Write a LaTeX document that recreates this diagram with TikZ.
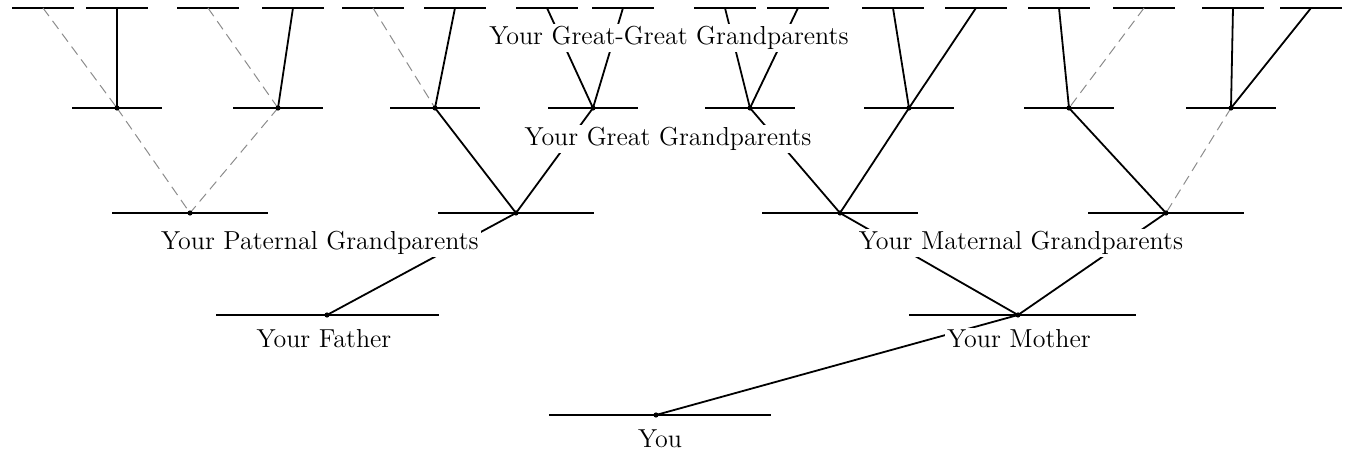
\documentclass[tikz,border=0pt]{standalone}
\usepackage{tikz}
\usetikzlibrary{calc}
\tikzset{
  bar/.style={line width=0.6pt},
  link/.style={line width=0.9pt},
  faint/.style={line width=0.5pt, black!45, dash pattern=on 5pt off 3pt},
  gentext/.style={fill=white, inner sep=1pt, font=\fontsize{13}{15}\selectfont},
  knot/.style={fill=black},
}

\begin{document}
\begin{tikzpicture}[x=0.5pt, y=-0.5pt]
  \useasboundingbox (0,0) rectangle (1346,454);
  % great-great grandparents
  \foreach \n/\x in {1/43,2/117,3/208,4/293,5/373,6/455,7/547,8/623,9/725,10/798,11/893,12/976,13/1059,14/1144,15/1233,16/1311}{
    \coordinate (gg\n) at (\x,8);
    \draw[bar] ($(gg\n)+(-31,0)$) -- ($(gg\n)+(31,0)$);
  }
  % great grandparents
  \foreach \n/\x in {1/117,2/278,3/435,4/593,5/750,6/909,7/1069,8/1231}{
    \coordinate (g\n) at (\x,108);
    \draw[bar] ($(g\n)+(-45,0)$) -- ($(g\n)+(45,0)$);
  }
  % grandparents
  \foreach \n/\x in {1/190,2/516,3/840,4/1166}{
    \coordinate (gp\n) at (\x,213);
    \draw[bar] ($(gp\n)+(-78,0)$) -- ($(gp\n)+(78,0)$);
  }
  % parents and you
  \coordinate (fa) at (327,315);
  \coordinate (mo) at (1018,315);
  \coordinate (you) at (656,415);
  \draw[bar] ($(fa)+(-111,0)$) -- ($(fa)+(112,0)$);
  \draw[bar] ($(mo)+(-109,0)$) -- ($(mo)+(118,0)$);
  \draw[bar] ($(you)+(-107,0)$) -- ($(you)+(115,0)$);

  % links between generations
  \draw[faint] (gg1) -- (g1);
  \draw[link] (gg2) -- (g1);
  \draw[faint] (gg3) -- (g2);
  \draw[link] (gg4) -- (g2);
  \draw[faint] (gg5) -- (g3);
  \draw[link] (gg6) -- (g3);
  \draw[link] (gg7) -- (g4);
  \draw[link] (gg8) -- (g4);
  \draw[link] (gg9) -- (g5);
  \draw[link] (gg10) -- (g5);
  \draw[link] (gg11) -- (g6);
  \draw[link] (gg12) -- (g6);
  \draw[link] (gg13) -- (g7);
  \draw[faint] (gg14) -- (g7);
  \draw[link] (gg15) -- (g8);
  \draw[link] (gg16) -- (g8);
  \draw[faint] (g1) -- (gp1);
  \draw[faint] (g2) -- (gp1);
  \draw[link] (g3) -- (gp2);
  \draw[link] (g4) -- (gp2);
  \draw[link] (g5) -- (gp3);
  \draw[link] (g6) -- (gp3);
  \draw[link] (g7) -- (gp4);
  \draw[faint] (g8) -- (gp4);
  \draw[link] (gp2) -- (fa);
  \draw[link] (gp3) -- (mo);
  \draw[link] (gp4) -- (mo);
  \draw[link] (mo) -- (you);

  % junctions
  \foreach \p in {g1,g2,g3,g4,g5,g6,g7,g8,gp1,gp2,gp3,gp4,fa,mo,you}
    \fill[knot] (\p) circle (1.3pt);

  % generation names
  \node[gentext] (tgg) at (669,38) {Your Great-Great Grandparents};
  \node[gentext] (tg) at (668,139) {Your Great Grandparents};
  \node[gentext] (tpat) at (320,243) {Your Paternal Grandparents};
  \node[gentext] (tmat) at (1021,243) {Your Maternal Grandparents};
  \node[gentext] (tfa) at (324,339) {Your Father};
  \node[gentext] (tmo) at (1019,339) {Your Mother};
  \node[gentext] (tyou) at (660,439) {You};
\end{tikzpicture}
\end{document}
